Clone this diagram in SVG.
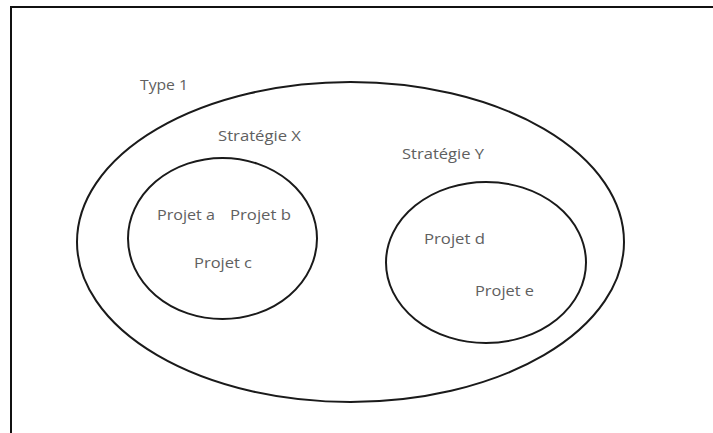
<svg xmlns="http://www.w3.org/2000/svg" width="713" height="433" viewBox="0 0 713 433">
<style>
.frame{fill:none;stroke:#111;stroke-width:2}
.ring{fill:none;stroke:#1a1a1a;stroke-width:2}
.lbl{font-family:"Open Sans","Noto Sans",sans-serif;font-size:14px;fill:#606060}
</style>
<rect width="713" height="433" fill="#fff"/>
<path class="frame" d="M11 433 V7 H713"/>
<g id="type1">
<ellipse class="ring" cx="350.5" cy="242" rx="273.5" ry="160"/>
<text class="lbl" x="140" y="90" textLength="48" lengthAdjust="spacingAndGlyphs">Type 1</text>
</g>
<g id="strategieX">
<ellipse class="ring" cx="222.5" cy="238.5" rx="94.5" ry="80.5"/>
<text class="lbl" x="218" y="141" textLength="83" lengthAdjust="spacingAndGlyphs">Stratégie X</text>
</g>
<g id="strategieY">
<ellipse class="ring" cx="486" cy="262.5" rx="100" ry="80.5"/>
<text class="lbl" x="402" y="159" textLength="82" lengthAdjust="spacingAndGlyphs">Stratégie Y</text>
</g>
<g id="projetA"><text class="lbl" x="157" y="220" textLength="58" lengthAdjust="spacingAndGlyphs">Projet a</text></g>
<g id="projetB"><text class="lbl" x="230" y="220" textLength="61" lengthAdjust="spacingAndGlyphs">Projet b</text></g>
<g id="projetC"><text class="lbl" x="194" y="268" textLength="58" lengthAdjust="spacingAndGlyphs">Projet c</text></g>
<g id="projetD"><text class="lbl" x="424" y="244" textLength="61" lengthAdjust="spacingAndGlyphs">Projet d</text></g>
<g id="projetE"><text class="lbl" x="475" y="296" textLength="59" lengthAdjust="spacingAndGlyphs">Projet e</text></g>
<g id="connectors"></g>
</svg>
